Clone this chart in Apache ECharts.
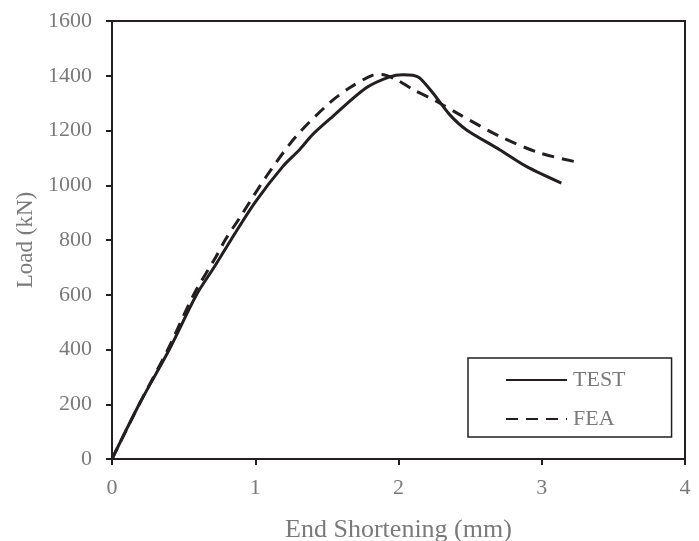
<!DOCTYPE html>
<html>
<head>
<meta charset="utf-8">
<script src="https://cdn.jsdelivr.net/npm/echarts@6/dist/echarts.min.js"></script>
<style>html,body{margin:0;padding:0;background:#fff;}#c{width:699px;height:541px;}</style>
</head>
<body>
<div id="c"></div>
<script>
var testX = [0, 0.19, 0.40, 0.59, 0.716, 0.83, 0.995, 1.193, 1.309, 1.40, 1.542, 1.775, 1.938, 2.03, 2.10, 2.147, 2.24, 2.357, 2.473, 2.706, 2.892, 3.137];
var testY = [0, 200, 400, 600, 703, 800, 935, 1069, 1130, 1185, 1252, 1356, 1396, 1404, 1402, 1392, 1337, 1258, 1203, 1130, 1069, 1008];
var feaX = [0, 0.19, 0.39, 0.57, 0.727, 0.79, 0.890, 1.077, 1.286, 1.519, 1.659, 1.821, 1.88, 1.985, 2.10, 2.264, 2.427, 2.706, 2.985, 3.27];
var feaY = [0, 200, 400, 600, 740, 800, 880, 1032, 1179, 1301, 1356, 1402, 1405, 1386, 1350, 1307, 1258, 1179, 1118, 1082];
var xTicks = [0, 1, 2, 3, 4];
var yTicks = [0, 200, 400, 600, 800, 1000, 1200, 1400, 1600];

function pairs(xs, ys) { return xs.map(function (x, i) { return [x, ys[i]]; }); }

var font = 'Liberation Serif';
var grey = '#7a7a7a';
var chart = echarts.init(document.getElementById('c'));
chart.setOption({
  animation: false,
  grid: { left: 112, top: 21, right: 14, bottom: 82, containLabel: false, outerBoundsMode: 'none',
    show: true, borderColor: '#231f20', borderWidth: 2 },
  xAxis: {
    type: 'value', min: xTicks[0], max: xTicks[xTicks.length - 1], interval: 1,
    name: 'End Shortening (mm)', nameLocation: 'middle', nameGap: 58,
    nameTextStyle: { fontFamily: font, fontSize: 26, color: grey },
    axisLine: { lineStyle: { color: '#231f20', width: 2 } },
    axisTick: { inside: false, length: 6, lineStyle: { color: '#231f20', width: 2 } },
    axisLabel: { fontFamily: font, fontSize: 22, color: grey, margin: 18, formatter: function (v) { return String(v); } },
    splitLine: { show: false }
  },
  yAxis: {
    type: 'value', min: yTicks[0], max: yTicks[yTicks.length - 1], interval: 200,
    name: 'Load (kN)', nameLocation: 'middle', nameGap: 64,
    nameTextStyle: { fontFamily: font, fontSize: 23, color: grey },
    axisLine: { lineStyle: { color: '#231f20', width: 2 } },
    axisTick: { inside: false, length: 6, lineStyle: { color: '#231f20', width: 2 } },
    axisLabel: { fontFamily: font, fontSize: 22, color: grey, margin: 20, formatter: function (v) { return String(v); } },
    splitLine: { show: false }
  },
  legend: {
    orient: 'vertical', left: 468, top: 358,
    padding: [11, 46, 7, 37], itemGap: 17, itemWidth: 61, itemHeight: 14,
    borderColor: '#231f20', borderWidth: 1.5,
    itemStyle: { opacity: 0 },
    textStyle: { fontFamily: font, fontSize: 22, color: grey, padding: [0, 0, 0, 1] },
    data: ['TEST', 'FEA']
  },
  series: [
    { name: 'TEST', type: 'line', data: pairs(testX, testY), smooth: 0.3, symbol: 'none',
      lineStyle: { color: '#231f20', width: 3 }, itemStyle: { color: '#231f20' } },
    { name: 'FEA', type: 'line', data: pairs(feaX, feaY), smooth: 0.3, symbol: 'none',
      lineStyle: { color: '#231f20', width: 3, type: [12, 8] }, itemStyle: { color: '#231f20' } }
  ]
});
</script>
</body>
</html>
